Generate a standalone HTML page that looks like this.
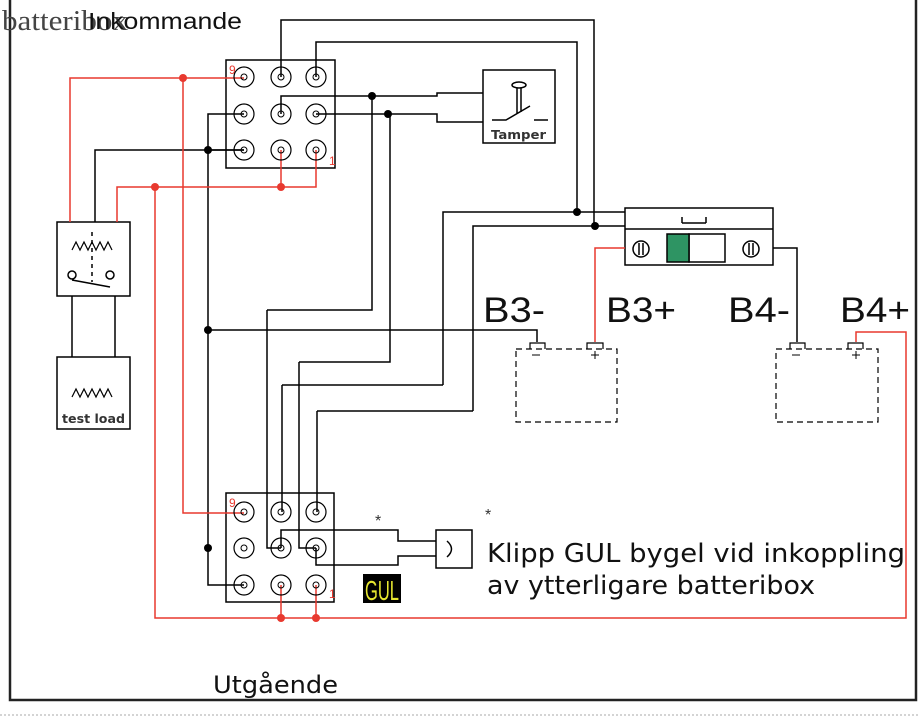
<!DOCTYPE html>
<html><head><meta charset="utf-8"><style>
html,body{margin:0;padding:0;background:#fff}
svg{display:block}
</style></head><body>
<svg width="918" height="718" viewBox="0 0 918 718" xmlns="http://www.w3.org/2000/svg">
<defs>
<g id="t"><circle r="10" fill="none" stroke="#000" stroke-width="1.2"/><circle r="3" fill="none" stroke="#000" stroke-width="1"/></g>
</defs>
<path d="M10 0 V700 H916 V0" fill="none" stroke="#222" stroke-width="2.5"/>
<line x1="0" y1="715" x2="918" y2="715" stroke="#aaa" stroke-dasharray="2,2"/>
<text x="2" y="30" font-family="Liberation Serif, serif" font-size="28" fill="#444" textLength="126" lengthAdjust="spacingAndGlyphs">batteribox</text>
<text x="88" y="29" font-family="Liberation Sans, sans-serif" font-size="23" fill="#111" textLength="154" lengthAdjust="spacingAndGlyphs">Inkommande</text>
<text x="213" y="693" font-family="DejaVu Sans, sans-serif" font-size="24" fill="#111" textLength="125" lengthAdjust="spacingAndGlyphs">Utgående</text>
<text x="487" y="562" font-family="DejaVu Sans, sans-serif" font-size="26" fill="#111" textLength="418" lengthAdjust="spacingAndGlyphs">Klipp GUL bygel vid inkoppling</text>
<text x="487" y="594" font-family="DejaVu Sans, sans-serif" font-size="26" fill="#111" textLength="328" lengthAdjust="spacingAndGlyphs">av ytterligare batteribox</text>
<text x="375" y="526" font-family="Liberation Sans, sans-serif" font-size="16" fill="#333">*</text>
<text x="485" y="520" font-family="Liberation Sans, sans-serif" font-size="16" fill="#333">*</text>
<rect x="363" y="574" width="38" height="29" fill="#000"/>
<text x="365" y="600" font-family="Liberation Sans, sans-serif" font-size="28" fill="#e6e630" textLength="34" lengthAdjust="spacingAndGlyphs">GUL</text>

<g fill="none" stroke="#000" stroke-width="1.5">
<rect x="226" y="60" width="109" height="108"/>
<rect x="226" y="493" width="108" height="109"/>
<path d="M281 77 V20 H594 V226"/>
<path d="M316 77 V42 H577 V212"/>
<path d="M443 385 V212 H625"/><path d="M473 411 V226 H625"/>
<path d="M281 114 V96 H437 V93 H483"/>
<path d="M316 114 H437 V122 H483"/>
<path d="M244 114 H208 V585 H244"/>
<path d="M208 150 H244"/>
<path d="M244 150 H95 V222"/>
<path d="M208 330 H537 V342"/>
<path d="M267 310 H372 V96"/><path d="M267 310 V548 H281"/>
<path d="M299 362 H390 V114"/><path d="M299 362 V548 H316"/>
<path d="M282 385 H443"/><path d="M282 385 V512"/>
<path d="M317 411 H473"/><path d="M317 411 V512"/>
<path d="M281 548 V530 H398 V541 H436"/>
<path d="M316 548 V565 H398 V556 H436"/>
<rect x="436" y="530" width="36" height="38"/>
<path d="M447 541 Q456 549 447 557"/>
<rect x="483" y="70" width="72" height="73"/>
<path d="M492 120 H506 L530 106 M534 120 H548 M517 88 V114 M521 88 V112"/>
<ellipse cx="519" cy="85" rx="7" ry="3"/>
<rect x="625" y="208" width="148" height="57"/>
<line x1="625" y1="229" x2="773" y2="229"/>
<path d="M682 223 H706 M682 217 V223 M706 217 V223"/>
<circle cx="641" cy="249" r="8"/><path d="M639 243 V255 M643 243 V255"/>
<circle cx="751" cy="249" r="8"/><path d="M749 243 V255 M753 243 V255"/>
<rect x="689" y="234" width="36" height="28"/>
<path d="M773 248 H797 V342"/>
<rect x="57" y="222" width="73" height="74"/>
<rect x="57" y="357" width="73" height="72"/>
<path d="M72 296 V357 M115 296 V357"/>
<path d="M72 250 l4 -8 l4 8 l4 -8 l4 8 l4 -8 l4 8 l4 -8 l4 8 l4 -8 l4 8" stroke-width="1.2"/>
<path d="M72 397 l4 -8 l4 8 l4 -8 l4 8 l4 -8 l4 8 l4 -8 l4 8 l4 -8 l4 8" stroke-width="1.2"/>
<path d="M92 232 V282" stroke-dasharray="4,4"/>
<circle cx="72" cy="275" r="4"/><circle cx="110" cy="275" r="4"/>
<path d="M72 280 L110 287"/>
<rect x="516" y="349" width="101" height="73" stroke-dasharray="6,4" stroke-width="1.2"/>
<rect x="776" y="349" width="102" height="73" stroke-dasharray="6,4" stroke-width="1.2"/>
<path d="M530 349 V343 H545 V349 M587 349 V343 H603 V349 M790 349 V343 H805 V349 M848 349 V343 H863 V349" stroke-width="1.2"/>
<path d="M532 355 H540 M591 355 H599 M595 351 V359 M792 355 H800 M852 355 H860 M856 351 V359" stroke-width="1"/>
</g>
<rect x="667" y="234" width="22" height="28" fill="#2e9463" stroke="#000" stroke-width="1.5"/>
<text x="491" y="139" font-family="DejaVu Sans, sans-serif" font-size="12" font-weight="bold" fill="#333" textLength="55" lengthAdjust="spacingAndGlyphs">Tamper</text>
<text x="62" y="423" font-family="DejaVu Sans, sans-serif" font-size="12" font-weight="bold" fill="#333" textLength="63" lengthAdjust="spacingAndGlyphs">test load</text>
<g font-family="Liberation Sans, sans-serif" font-size="35" fill="#111">
<text x="483" y="322" textLength="62" lengthAdjust="spacingAndGlyphs">B3-</text>
<text x="606" y="322" textLength="70" lengthAdjust="spacingAndGlyphs">B3+</text>
<text x="728" y="322" textLength="62" lengthAdjust="spacingAndGlyphs">B4-</text>
<text x="840" y="322" textLength="70" lengthAdjust="spacingAndGlyphs">B4+</text>
</g>
<g fill="none" stroke="#e8392f" stroke-width="1.5">
<path d="M244 78 H70 V222"/>
<path d="M183 78 V513 H244"/>
<path d="M316 150 V187 H117 V222"/><path d="M281 150 V187"/>
<path d="M155 187 V618 H906 V332 H856 V342"/>
<path d="M281 585 V618 M316 585 V618"/>
<path d="M625 248 H595 V342"/>
</g>
<g fill="#e8392f">
<circle cx="183" cy="78" r="4"/><circle cx="155" cy="187" r="4"/><circle cx="281" cy="187" r="4"/>
<circle cx="281" cy="618" r="4"/><circle cx="316" cy="618" r="4"/>
<text x="229" y="74" font-family="Liberation Sans, sans-serif" font-size="12">9</text>
<text x="329" y="165" font-family="Liberation Sans, sans-serif" font-size="12">1</text>
<text x="229" y="507" font-family="Liberation Sans, sans-serif" font-size="12">9</text>
<text x="329" y="598" font-family="Liberation Sans, sans-serif" font-size="12">1</text>
</g>
<g fill="#000">
<circle cx="577" cy="212" r="4"/><circle cx="595" cy="226" r="4"/>
<circle cx="372" cy="96" r="4"/><circle cx="388" cy="114" r="4"/>
<circle cx="208" cy="150" r="4"/><circle cx="208" cy="330" r="4"/><circle cx="208" cy="548" r="4"/>
</g>
<g fill="#fff">
<use href="#t" x="244" y="77"/><use href="#t" x="281" y="77"/><use href="#t" x="316" y="77"/>
<use href="#t" x="244" y="114"/><use href="#t" x="281" y="114"/><use href="#t" x="316" y="114"/>
<use href="#t" x="244" y="150"/><use href="#t" x="281" y="150"/><use href="#t" x="316" y="150"/>
<use href="#t" x="244" y="512"/><use href="#t" x="281" y="512"/><use href="#t" x="316" y="512"/>
<use href="#t" x="244" y="548"/><use href="#t" x="281" y="548"/><use href="#t" x="316" y="548"/>
<use href="#t" x="244" y="585"/><use href="#t" x="281" y="585"/><use href="#t" x="316" y="585"/>
</g>
</svg>
</body></html>
